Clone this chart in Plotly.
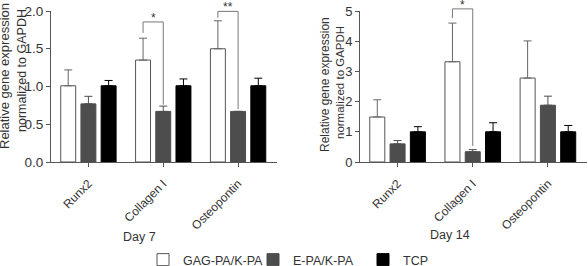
import plotly.graph_objects as go

# ---------------- data ----------------
categories = ["Runx2", "Collagen I", "Osteopontin"]
series_names = ["GAG-PA/K-PA", "E-PA/K-PA", "TCP"]

day7_gag = [1.01, 1.35, 1.50]
day7_gag_err = [0.21, 0.29, 0.37]
day7_epa = [0.77, 0.67, 0.67]
day7_epa_err = [0.10, 0.07, 0.0]
day7_tcp = [1.01, 1.01, 1.01]
day7_tcp_err = [0.07, 0.09, 0.10]

day14_gag = [1.49, 3.32, 2.78]
day14_gag_err = [0.57, 1.28, 1.23]
day14_epa = [0.60, 0.34, 1.88]
day14_epa_err = [0.11, 0.07, 0.30]
day14_tcp = [1.00, 1.00, 1.00]
day14_tcp_err = [0.17, 0.30, 0.21]

day7_ticks = [0.0, 0.5, 1.0, 1.5, 2.0]
day14_ticks = [0, 1, 2, 3, 4, 5]

# significance brackets: (category index, left end, top, right end, label)
day7_sig = [(1, 1.71, 1.855, 0.76, "*"), (2, 1.91, 1.995, 0.70, "**")]
day14_sig = [(1, 4.77, 5.07, 0.53, "*")]

ytitle_lines = ["Relative gene expression", "normalized to GAPDH"]

# ---------------- style ----------------
FONT = "Arial, 'Liberation Sans', sans-serif"
TXT = "#333333"
AX = "#555555"
fills = ["#ffffff", "#4d4d4d", "#000000"]
outlines = ["#555555", "#4d4d4d", "#000000"]
errcols = ["#666666", "#4d4d4d", "#000000"]
BARGAP = 0.19
BARGROUPGAP = 0.26
slot = (1 - BARGAP) / 3.0

W, H = 588, 266
def px(x):
    return x / W
def py(y):
    return 1 - y / H

fig = go.Figure()

panels = [
    ("x", "y", [day7_gag, day7_epa, day7_tcp], [day7_gag_err, day7_epa_err, day7_tcp_err]),
    ("x2", "y2", [day14_gag, day14_epa, day14_tcp], [day14_gag_err, day14_epa_err, day14_tcp_err]),
]
for pi, (xa, ya, vals, errs) in enumerate(panels):
    for si in range(3):
        fig.add_trace(go.Bar(
            x=categories, y=vals[si], name=series_names[si],
            xaxis=xa, yaxis=ya,
            marker=dict(color=fills[si], line=dict(color=outlines[si], width=1)),
            error_y=dict(type="data", symmetric=False, array=errs[si],
                         arrayminus=[0] * len(errs[si]),
                         color=errcols[si], thickness=1, width=4),
            showlegend=(pi == 0),
            legendgroup=series_names[si],
        ))

ydom = [py(162), py(11)]
axis_common = dict(showline=True, linecolor=AX, linewidth=1, ticks="outside",
                   ticklen=4, tickcolor=AX, showgrid=False, zeroline=False,
                   mirror=False)

fig.update_layout(
    width=W, height=H,
    margin=dict(l=0, r=0, t=0, b=0, autoexpand=False),
    paper_bgcolor="white", plot_bgcolor="white",
    barmode="group", bargap=BARGAP, bargroupgap=BARGROUPGAP,
    font=dict(family=FONT, color=TXT, size=12),
    xaxis=dict(domain=[px(51), px(277)], range=[-0.5, 2.52], anchor="y",
               tickangle=-45, ticklabelstandoff=5,
               tickfont=dict(size=12, color=TXT), **axis_common),
    yaxis=dict(domain=ydom, range=[0, 2.0], anchor="x", tickvals=day7_ticks,
               ticktext=[f"{v:.1f}" for v in day7_ticks],
               tickfont=dict(size=13.5, color=TXT), **axis_common),
    xaxis2=dict(domain=[px(360), px(587)], range=[-0.5, 2.52], anchor="y2",
                tickangle=-45, ticklabelstandoff=5,
                tickfont=dict(size=12, color=TXT), **axis_common),
    yaxis2=dict(domain=ydom, range=[0, 5], anchor="x2", tickvals=day14_ticks,
                tickfont=dict(size=13, color=TXT), **axis_common),
    legend=dict(orientation="h", x=px(143), xanchor="left", y=py(260),
                yanchor="middle", font=dict(size=12.5, color=TXT),
                itemwidth=30, entrywidth=65, entrywidthmode="pixels",
                traceorder="normal", bgcolor="rgba(0,0,0,0)"),
)

# significance brackets
for xa, ya, ymax, sigs in [("x", "y", 2.0, day7_sig), ("x2", "y2", 5.0, day14_sig)]:
    for ci, yl, yt, yr, lab in sigs:
        xl = ci - slot
        xr = ci
        fig.add_shape(type="path",
                      path=f"M {xl} {yl/ymax} L {xl} {yt/ymax} L {xr} {yt/ymax} L {xr} {yr/ymax}",
                      xref=xa, yref=f"{ya} domain",
                      line=dict(color="#777777", width=1))
        fig.add_annotation(x=(xl + xr) / 2, y=yt / ymax, xref=xa, yref=f"{ya} domain",
                           text=lab, showarrow=False, yanchor="bottom", yshift=-5,
                           font=dict(size=12, color=TXT))

# axis-group labels
fig.add_annotation(x=px(139), y=py(237), xref="paper", yref="paper", text="Day 7",
                   xanchor="center", yanchor="middle",
                   showarrow=False, font=dict(size=12.5, color=TXT))
fig.add_annotation(x=px(450), y=py(235), xref="paper", yref="paper", text="Day 14",
                   xanchor="center", yanchor="middle",
                   showarrow=False, font=dict(size=12.5, color=TXT))

# y titles (one annotation per line)
for (x, y, li, s) in [(4, 76, 0, 13), (22, 71, 1, 12.5),
                      (325, 85, 0, 12), (340, 83, 1, 11.5)]:
    fig.add_annotation(x=px(x), y=py(y), xref="paper", yref="paper",
                       text=ytitle_lines[li],
                       xanchor="center", yanchor="middle",
                       textangle=-90, showarrow=False, font=dict(size=s, color=TXT))

fig.write_html("out.html")
